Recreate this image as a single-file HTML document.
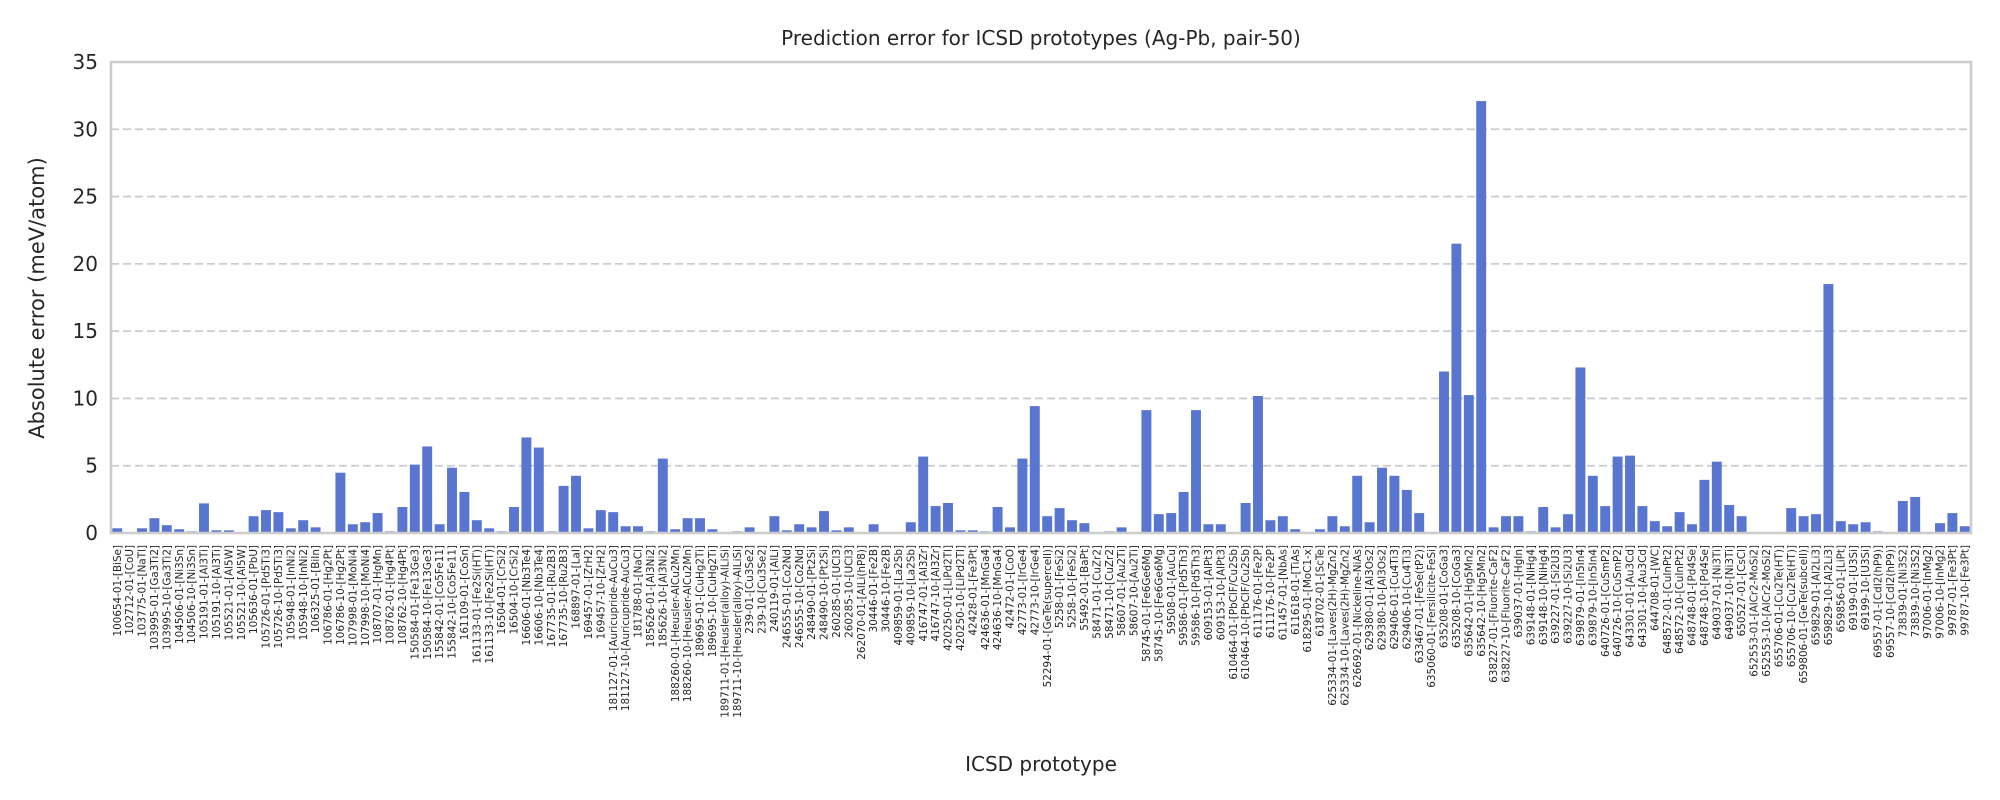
<!DOCTYPE html>
<html><head><meta charset="utf-8">
<style>
html,body{margin:0;padding:0;background:#fff;}
svg{display:block;font-family:"DejaVu Sans","Liberation Sans",sans-serif;}
</style></head>
<body>
<svg id="chart" width="2000" height="800" xmlns="http://www.w3.org/2000/svg">
<rect width="2000" height="800" fill="#fff"/>
<text x="1041" y="45" font-size="20" text-anchor="middle" fill="#262626">Prediction error for ICSD prototypes (Ag-Pb, pair-50)</text>
<text transform="translate(44,298) rotate(-90)" font-size="21" text-anchor="middle" fill="#262626">Absolute error (meV/atom)</text>
<text x="1041" y="771" font-size="20" text-anchor="middle" fill="#262626">ICSD prototype</text>
<g id="grid"></g><g id="bars"></g><g id="yticks"></g><g id="xticks"></g>
<rect x="111" y="62" width="1860" height="471" fill="none" stroke="#cccccc" stroke-width="2.5"/>
</svg>
<script>
const categories = ["100654-01-[BiSe]","102712-01-[CoU]","103775-01-[NaTl]","103995-01-[Ga3Ti2]","103995-10-[Ga3Ti2]","104506-01-[Ni3Sn]","104506-10-[Ni3Sn]","105191-01-[Al3Ti]","105191-10-[Al3Ti]","105521-01-[Al5W]","105521-10-[Al5W]","105636-01-[PbU]","105726-01-[Pd5Ti3]","105726-10-[Pd5Ti3]","105948-01-[InNi2]","105948-10-[InNi2]","106325-01-[BiIn]","106786-01-[Hg2Pt]","106786-10-[Hg2Pt]","107998-01-[MoNi4]","107998-10-[MoNi4]","108707-01-[HgMn]","108762-01-[Hg4Pt]","108762-10-[Hg4Pt]","150584-01-[Fe13Ge3]","150584-10-[Fe13Ge3]","155842-01-[Co5Fe11]","155842-10-[Co5Fe11]","161109-01-[CoSn]","161133-01-[Fe2Si(HT)]","161133-10-[Fe2Si(HT)]","16504-01-[CrSi2]","16504-10-[CrSi2]","16606-01-[Nb3Te4]","16606-10-[Nb3Te4]","167735-01-[Ru2B3]","167735-10-[Ru2B3]","168897-01-[LaI]","169457-01-[ZrH2]","169457-10-[ZrH2]","181127-01-[Auricupride-AuCu3]","181127-10-[Auricupride-AuCu3]","181788-01-[NaCl]","185626-01-[Al3Ni2]","185626-10-[Al3Ni2]","188260-01-[Heusler-AlCu2Mn]","188260-10-[Heusler-AlCu2Mn]","189695-01-[CuHg2Ti]","189695-10-[CuHg2Ti]","189711-01-[Heusler(alloy)-AlLiSi]","189711-10-[Heusler(alloy)-AlLiSi]","239-01-[Cu3Se2]","239-10-[Cu3Se2]","240119-01-[AlLi]","246555-01-[Co2Nd]","246555-10-[Co2Nd]","248490-01-[Pt2Si]","248490-10-[Pt2Si]","260285-01-[UCl3]","260285-10-[UCl3]","262070-01-[AlLi(hP8)]","30446-01-[Fe2B]","30446-10-[Fe2B]","409859-01-[La2Sb]","409859-10-[La2Sb]","416747-01-[Al3Zr]","416747-10-[Al3Zr]","420250-01-[LiPd2Tl]","420250-10-[LiPd2Tl]","42428-01-[Fe3Pt]","424636-01-[MnGa4]","424636-10-[MnGa4]","42472-01-[CoO]","42773-01-[IrGe4]","42773-10-[IrGe4]","52294-01-[GeTe(supercell)]","5258-01-[FeSi2]","5258-10-[FeSi2]","55492-01-[BaPt]","58471-01-[CuZr2]","58471-10-[CuZr2]","58607-01-[Au2Ti]","58607-10-[Au2Ti]","58745-01-[Fe6Ge6Mg]","58745-10-[Fe6Ge6Mg]","59508-01-[AuCu]","59586-01-[Pd5Th3]","59586-10-[Pd5Th3]","609153-01-[AlPt3]","609153-10-[AlPt3]","610464-01-[PbClF/Cu2Sb]","610464-10-[PbClF/Cu2Sb]","611176-01-[Fe2P]","611176-10-[Fe2P]","611457-01-[NbAs]","611618-01-[TiAs]","618295-01-[MoC1-x]","618702-01-[ScTe]","625334-01-[Laves(2H)-MgZn2]","625334-10-[Laves(2H)-MgZn2]","626692-01-[Nickeline-NiAs]","629380-01-[Al3Os2]","629380-10-[Al3Os2]","629406-01-[Cu4Ti3]","629406-10-[Cu4Ti3]","633467-01-[FeSe(tP2)]","635060-01-[Fersilicite-FeSi]","635208-01-[CoGa3]","635208-10-[CoGa3]","635642-01-[Hg5Mn2]","635642-10-[Hg5Mn2]","638227-01-[Fluorite-CaF2]","638227-10-[Fluorite-CaF2]","639037-01-[HgIn]","639148-01-[NiHg4]","639148-10-[NiHg4]","639227-01-[Si2U3]","639227-10-[Si2U3]","639879-01-[In5In4]","639879-10-[In5In4]","640726-01-[CuSmP2]","640726-10-[CuSmP2]","643301-01-[Au3Cd]","643301-10-[Au3Cd]","644708-01-[WC]","648572-01-[CuInPt2]","648572-10-[CuInPt2]","648748-01-[Pd4Se]","648748-10-[Pd4Se]","649037-01-[Ni3Ti]","649037-10-[Ni3Ti]","650527-01-[CsCl]","652553-01-[AlCr2-MoSi2]","652553-10-[AlCr2-MoSi2]","655706-01-[Cu2Te(HT)]","655706-10-[Cu2Te(HT)]","659806-01-[GeTe(subcell)]","659829-01-[Al2Li3]","659829-10-[Al2Li3]","659856-01-[LiPt]","69199-01-[U3Si]","69199-10-[U3Si]","69557-01-[CdI2(hP9)]","69557-10-[CdI2(hP9)]","73839-01-[Ni3S2]","73839-10-[Ni3S2]","97006-01-[InMg2]","97006-10-[InMg2]","99787-01-[Fe3Pt]","99787-10-[Fe3Pt]"];
const errorsA = [0.35,0,0.35,1.1,0.58,0.28,0.12,2.2,0.2,0.2,0,1.25,1.7,1.55,0.35,0.95,0.42,0,4.48,0.65,0.8,1.48,0.12,1.93,5.08,6.43,0.65,4.85,3.05,0.95];
const errorsB = [0.35,0.12,1.93,7.1,6.35,0.12,3.5,4.25,0.35,1.7,1.55,0.5,0.5,0.12,5.53,0.28,1.1,1.1,0.28,0,0.12,0.42,0,1.25,0.2,0.65,0.42,1.63,0.2,0.42];
const errorsC = [0,0.65,0,0.05,0.8,5.68,2.0,2.23,0.2,0.2,0.12,1.93,0.42,5.53,9.43,1.25,1.85,0.95,0.73,0.05,0.12,0.42,0.05,9.13,1.4,1.48,3.05,9.13,0.65,0.65];
const errorsD = [0.05,2.23,10.18,0.95,1.25,0.28,0.05,0.28,1.25,0.5,4.25,0.8,4.85,4.25,3.2,1.48,0,12.0,21.5,10.25,32.1,0.42,1.25,1.25,0.12,1.93,0.42,1.4,12.3,4.25];
const errorsE = [2.0,5.68,5.75,2.0,0.88,0.5,1.55,0.65,3.95,5.3,2.08,1.25,0.05,0.05,0,1.85,1.25,1.4,18.5,0.88,0.65,0.8,0.12,0,2.38,2.68,0,0.73,1.48,0.5];
const yTicks = [0,5,10,15,20,25,30,35];

const values = errorsA.concat(errorsB, errorsC, errorsD, errorsE);
const NS = "http://www.w3.org/2000/svg";
const X0 = 111, X1 = 1971, Y0 = 533, Y1 = 62, YMAX = 35;
const band = (X1 - X0) / categories.length;
function xScale(i){ return X0 + band * (i + 0.5); }
function yScale(v){ return Y0 - (v / YMAX) * (Y0 - Y1); }
function mk(tag, attrs){ const e = document.createElementNS(NS, tag); for (const k in attrs) e.setAttribute(k, attrs[k]); return e; }

const grid = document.getElementById('grid'), yt = document.getElementById('yticks');
yTicks.forEach(t => {
  const y = yScale(t);
  if (t > 0 && t < YMAX) {
    const l = mk('line', {x1: X0, x2: X1, y1: y, y2: y, stroke: '#cccccc', 'stroke-width': 1.8, 'stroke-dasharray': '8,4'});
    
    
    grid.appendChild(l);
  }
  const tx = mk('text', {x: 98, y: y + 7, 'font-size': 20, 'text-anchor': 'end', fill: '#262626'});
  tx.textContent = t;
  
  
  yt.appendChild(tx);
});

const bars = document.getElementById('bars'), xt = document.getElementById('xticks');
const bw = band * 0.8;
categories.forEach((c, i) => {
  const v = values[i] || 0;
  const r = mk('rect', {x: xScale(i) - bw / 2, y: yScale(v), width: bw, height: Y0 - yScale(v), fill: '#5875d0'});
  
  
  bars.appendChild(r);
  const x = xScale(i) + 3.6;
  const tx = mk('text', {transform: 'translate(' + x + ',545) rotate(-90)', 'font-size': 10.4, 'text-anchor': 'end', fill: '#262626'});
  tx.textContent = c;
  
  
  xt.appendChild(tx);
});
</script>
</body></html>
